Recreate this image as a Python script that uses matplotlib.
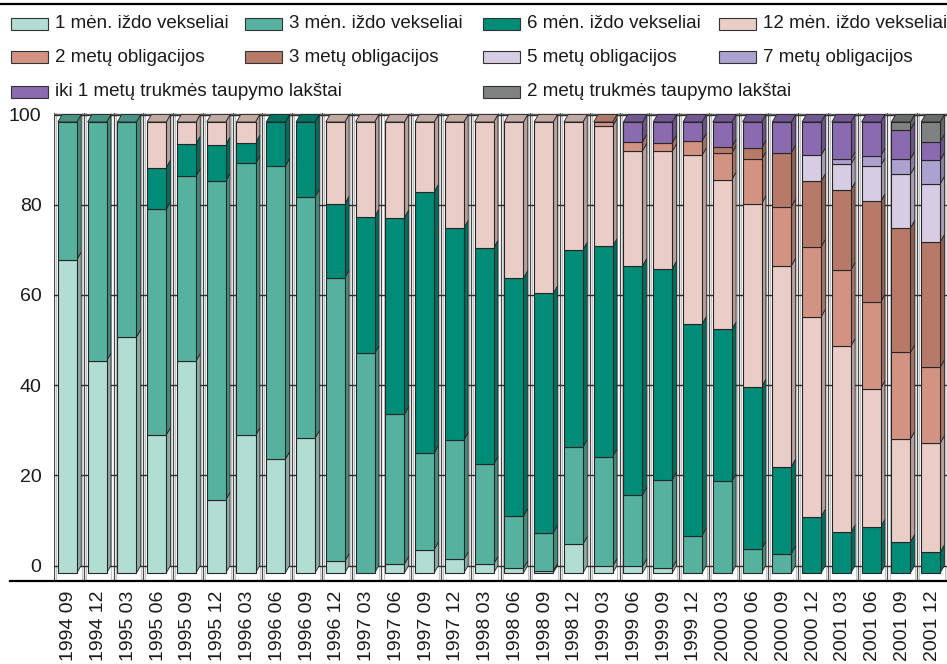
import numpy as np
import matplotlib
matplotlib.use("Agg")
import matplotlib.pyplot as plt
from matplotlib.patches import Rectangle, Polygon
from matplotlib.colors import to_rgb

plt.rcParams["font.family"] = ["Liberation Sans", "DejaVu Sans"]

# quarters
periods = [
    "1994 09", "1994 12",
    "1995 03", "1995 06", "1995 09", "1995 12",
    "1996 03", "1996 06", "1996 09", "1996 12",
    "1997 03", "1997 06", "1997 09", "1997 12",
    "1998 03", "1998 06", "1998 09", "1998 12",
    "1999 03", "1999 06", "1999 09", "1999 12",
    "2000 03", "2000 06", "2000 09", "2000 12",
    "2001 03", "2001 06", "2001 09", "2001 12",
]

# shares, %
m1 = [69.5, 47.1, 52.3, 30.6, 47.0, 16.2, 30.5, 25.2, 29.9, 2.6,
      0.0, 2.0, 5.2, 3.0, 2.0, 1.0, 0.4, 6.4, 1.5, 1.5,
      1.1, 0, 0, 0, 0, 0, 0, 0, 0, 0]
m3 = [30.5, 52.9, 47.7, 50.0, 41.0, 70.7, 60.3, 65.0, 53.5, 62.9,
      48.7, 33.2, 21.4, 26.5, 22.1, 11.6, 8.5, 21.5, 24.3, 15.8,
      19.6, 8.3, 20.3, 5.3, 4.3, 0, 0, 0, 0, 0]
m6 = [0, 0, 0, 9.3, 7.2, 8.1, 4.6, 9.8, 16.6, 16.4,
      30.3, 43.6, 57.9, 47.0, 48.0, 52.8, 53.1, 43.8, 46.7, 50.8,
      46.8, 46.9, 33.7, 36.0, 19.3, 12.5, 9.0, 10.2, 6.9, 4.6]
m12 = [0, 0, 0, 10.1, 4.8, 5.0, 4.6, 0, 0, 18.1,
       21.0, 21.2, 15.5, 23.5, 27.9, 34.6, 38.0, 28.3, 26.6, 25.5,
       26.0, 37.4, 33.2, 40.6, 44.5, 44.3, 41.3, 30.7, 22.8, 24.2]
o2 = [0] * 18 + [0.9, 2.0, 1.9, 3.2, 5.9, 9.8, 13.1, 15.5, 16.9, 19.2, 19.2, 16.8]
o3 = [0] * 22 + [1.4, 2.5, 12.0, 14.6, 17.8, 22.3, 27.6, 27.8]
o5 = [0] * 25 + [5.7, 5.6, 7.9, 11.9, 12.9]
o7 = [0] * 26 + [1.1, 2.2, 3.4, 5.2]
t1 = [0] * 19 + [4.4, 4.6, 4.2, 5.5, 5.8, 6.8, 7.4, 8.3, 7.5, 6.5, 4.1]
t2 = [0] * 28 + [1.7, 4.4]

series = [m1, m3, m6, m12, o2, o3, o5, o7, t1, t2]
names = [
    "1 mėn. iždo vekseliai", "3 mėn. iždo vekseliai", "6 mėn. iždo vekseliai",
    "12 mėn. iždo vekseliai", "2 metų obligacijos", "3 metų obligacijos",
    "5 metų obligacijos", "7 metų obligacijos",
    "iki 1 metų trukmės taupymo lakštai", "2 metų trukmės taupymo lakštai",
]
colors = ["#b2ddd3", "#56b29e", "#008c77", "#eacdc7", "#d39383",
          "#b77a69", "#d6cce3", "#ada1cf", "#8a6bb0", "#808282"]


def shade(c, f):
    r, g, b = to_rgb(c)
    return (r * f, g * f, b * f)


W, H = 947, 664
fig = plt.figure(figsize=(W / 100, H / 100), dpi=100)

# plot area in pixels
left, right, top, bottom = 54, 947, 113, 581
ax = fig.add_axes([left / W, 1 - bottom / H, (right - left) / W, (bottom - top) / H])
n = len(periods)
ax.set_xlim(0, n)
ppu = 4.51  # pixels per percent
y0_px = 573
ax.set_ylim((y0_px - bottom) / ppu, (y0_px - top) / ppu)
for s in ax.spines.values():
    s.set_visible(False)

cw = (right - left) / n
dx = 4.3 / cw
dy = 7.5 / ppu
edge = "#262626"

# back walls of each cell
ylo, yhi = ax.get_ylim()
for i in range(n + 1):
    ax.plot([i, i], [ylo, yhi], color="#4a4a4a", lw=0.9, zorder=0.5)
    if i < n:
        ax.plot([i + 0.07, i + 0.07], [ylo, yhi], color="#c4c4c4", lw=0.8, zorder=0.4)
        ax.plot([i + 0.93, i + 0.93], [ylo, yhi], color="#c4c4c4", lw=0.8, zorder=0.4)
ax.plot([0, n], [yhi - 0.15, yhi - 0.15], color="#6a6a6a", lw=1.0, zorder=0.5)

# horizontal gridlines on the back wall
grid_vals = [0, 20, 40, 60, 80, 100]
for g in grid_vals:
    ax.plot([0, n], [g + dy, g + dy], color="#2e2e2e", lw=1.0, zorder=1)

# 3D-looking stacked bars
data = np.array(series)
for i in range(n):
    x0 = i + 0.13
    x1 = i + 0.77
    base = 0.0
    top_col = None
    for k in range(len(series)):
        v = data[k, i]
        if v <= 0:
            continue
        c = colors[k]
        ax.add_patch(Rectangle((x0, base), x1 - x0, v, facecolor=c,
                               edgecolor=edge, lw=0.8, zorder=3))
        ax.add_patch(Polygon([(x1, base), (x1 + dx, base + dy),
                              (x1 + dx, base + v + dy), (x1, base + v)],
                             closed=True, facecolor=shade(c, 0.78),
                             edgecolor=edge, lw=0.6, zorder=2.5))
        base += v
        top_col = c
    ax.add_patch(Polygon([(x0, base), (x0 + dx, base + dy),
                          (x1 + dx, base + dy), (x1, base)],
                         closed=True, facecolor=shade(top_col, 0.82),
                         edgecolor=edge, lw=0.6, zorder=2.5))

ax.set_yticks([g + dy for g in grid_vals])
ax.set_yticklabels([str(g) for g in grid_vals], fontsize=14, color="#1a1a1a")
ax.set_xticks(np.arange(n) + 0.5)
ax.set_xticklabels(periods, rotation=90, fontsize=14, color="#1a1a1a")
ax.tick_params(axis="y", length=0, pad=9)
ax.tick_params(axis="x", length=0, pad=7)

# floor line and top rule
fig.add_artist(plt.Line2D([10 / W, 1], [1 - bottom / H] * 2, color="black", lw=1.6))
fig.add_artist(plt.Line2D([0, 1], [1 - 4 / H] * 2, color="black", lw=1.6))

# legend, drawn by hand
col_x = [11, 245, 483, 719]
row_y = [24, 57, 92]
slots = [(0, 0), (0, 1), (0, 2), (0, 3), (1, 0), (1, 1), (1, 2), (1, 3), (2, 0), (2, 2)]
for (r, cidx), name, c in zip(slots, names, colors):
    px, py = col_x[cidx], row_y[r]
    fig.add_artist(Rectangle((px / W, 1 - (py + 6) / H), 37 / W, 12 / H,
                             facecolor=c, edgecolor="#333333", lw=0.8,
                             transform=fig.transFigure))
    fig.text((px + 44) / W, 1 - py / H, name, fontsize=13.5, va="center",
             ha="left", color="#1a1a1a")

fig.savefig("out.png", dpi=100)
